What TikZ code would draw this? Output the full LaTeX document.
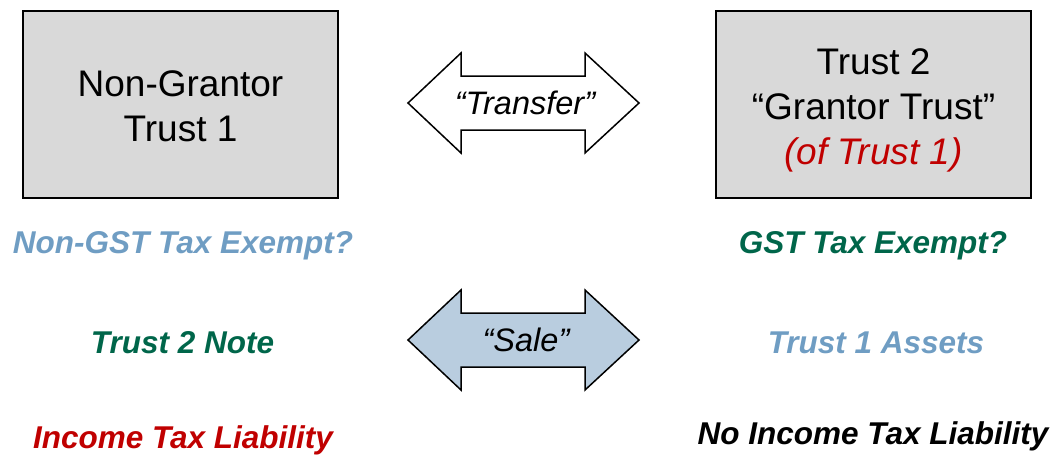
\documentclass[tikz,border=0pt]{standalone}
\usepackage{fontspec}
\setmainfont{Liberation Sans}
\begin{document}
\begin{tikzpicture}[x=1pt,y=-1pt]
\definecolor{boxgrey}{HTML}{D9D9D9}
\definecolor{salefill}{HTML}{B9CDDF}
\definecolor{lightblue}{HTML}{6F9DC3}
\definecolor{darkgreen}{HTML}{00664A}
\definecolor{darkred}{HTML}{C00000}
\tikzset{
  trustbox/.style={draw=black, line width=2pt, fill=boxgrey, minimum width=315pt, minimum height=187pt, inner sep=0pt},
  boxtext/.style={align=center, inner sep=0pt, font=\fontsize{37}{45}\selectfont},
  tag/.style={font=\fontsize{31.5}{36}\selectfont\bfseries\itshape, inner sep=0pt},
  arrowshape/.style={draw=black, line width=1.5pt, line join=miter},
  arrowtext/.style={font=\fontsize{32.5}{36}\selectfont\itshape, inner sep=0pt}
}
\useasboundingbox (0,0) rectangle (1056,455);

\node[trustbox] (t1) at (180.5,104.5) {};
\node[boxtext] (t1text) at (180.5,106) {Non-Grantor\\Trust 1};
\node[trustbox] (t2) at (873.5,104.5) {};
\node[boxtext] (t2text) at (873.5,110) {Trust 2\\\textquotedblleft Grantor Trust\textquotedblright\\\textcolor{darkred}{\itshape (of Trust 1)}};

\draw[arrowshape, fill=white] (408,103) -- (461,53) -- (461,76) -- (585,76) -- (585,53) -- (639,103) -- (585,153) -- (585,130) -- (461,130) -- (461,153) -- cycle;
\node[arrowtext] (transfer) at (525,103) {\textquotedblleft Transfer\textquotedblright};

\draw[arrowshape, fill=salefill] (408,340) -- (461,290) -- (461,313) -- (585,313) -- (585,290) -- (639,340) -- (585,390) -- (585,367) -- (461,367) -- (461,390) -- cycle;
\node[arrowtext] (sale) at (526,340) {\textquotedblleft Sale\textquotedblright};

\node[tag, text=lightblue] (ngst) at (183,246) {Non-GST Tax Exempt?};
\node[tag, text=darkgreen] (gst) at (873,246) {GST Tax Exempt?};
\node[tag, text=darkgreen] (note) at (182.5,343) {Trust 2 Note};
\node[tag, text=lightblue] (assets) at (876,343) {Trust 1 Assets};
\node[tag, text=darkred] (itl) at (183,440) {Income Tax Liability};
\node[tag, text=black] (nitl) at (873,436) {No Income Tax Liability};
\end{tikzpicture}
\end{document}
